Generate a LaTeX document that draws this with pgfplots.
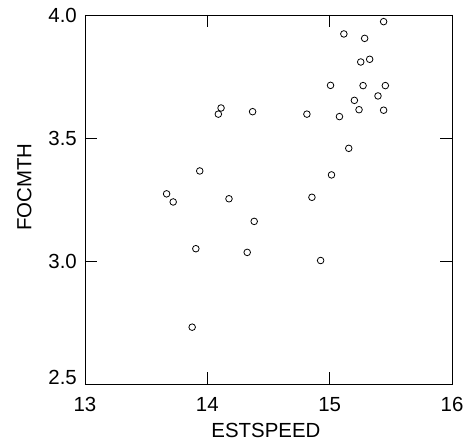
\documentclass[border=0pt]{standalone}
\usepackage{fontspec}
\setmainfont{Liberation Sans}
\usepackage{pgfplots}
\pgfplotsset{compat=1.18}

\begin{document}
\begin{tikzpicture}
\fontsize{20.5}{24}\selectfont
\begin{axis}[
  name=ax,
  scale only axis,
  width=367bp, height=369bp,
  xmin=13, xmax=16, ymin=2.5, ymax=4.0,
  xtick={13,14,15,16},
  ytick={2.5,3.0,3.5,4.0},
  yticklabels={\raisebox{13bp}{2.5},3.0,3.5,4.0},
  /pgf/number format/assume math mode=true,
  tick align=inside,
  major tick length=12bp,
  tick style={black, line width=0.8pt},
  axis line style={line width=0.9pt},
  ticklabel style={font=\fontsize{20.5}{24}\selectfont, inner sep=0pt},
  xticklabel style={anchor=north, yshift=-13bp},
  yticklabel style={anchor=east, xshift=-8bp},
  label style={font=\fontsize{20.5}{24}\selectfont, inner sep=0pt},
  xlabel={ESTSPEED},
  ylabel={FOCMTH},
  xlabel style={at={(axis description cs:0.493,-0.125)}, anchor=center},
  ylabel style={at={(axis description cs:-0.165,0.534)}, anchor=center},
]
\addplot[only marks, mark=o, mark size=3.3bp, mark options={line width=0.8pt, black}] coordinates {
  (15.441, 3.973)
  (15.116, 3.923)
  (15.286, 3.905)
  (15.254, 3.809)
  (15.327, 3.820)
  (15.007, 3.714)
  (15.273, 3.713)
  (15.455, 3.713)
  (15.202, 3.653)
  (15.395, 3.671)
  (15.240, 3.615)
  (15.441, 3.613)
  (15.080, 3.587)
  (14.814, 3.597)
  (14.370, 3.607)
  (14.112, 3.622)
  (14.090, 3.597)
  (15.156, 3.458)
  (15.015, 3.350)
  (14.855, 3.259)
  (13.938, 3.366)
  (13.667, 3.273)
  (13.721, 3.240)
  (14.177, 3.253)
  (14.383, 3.161)
  (13.906, 3.050)
  (14.326, 3.035)
  (14.926, 3.002)
  (13.876, 2.731)
};
\end{axis}
\pgfresetboundingbox
\path ([shift={(-85bp,-59bp)}]ax.south west) rectangle ([shift={(15bp,15bp)}]ax.north east);
\end{tikzpicture}
\end{document}
